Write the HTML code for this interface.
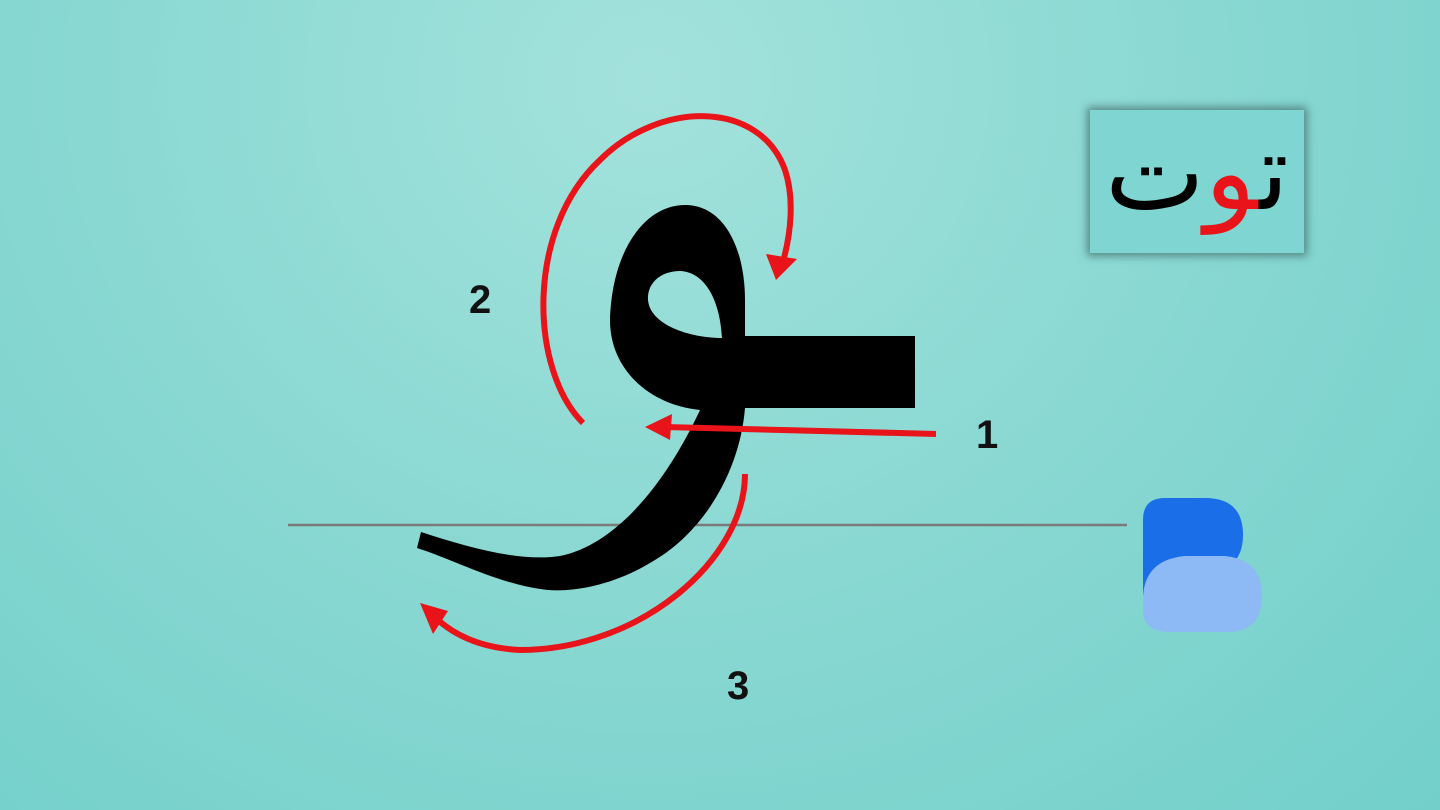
<!DOCTYPE html>
<html><head><meta charset="utf-8"><style>
html,body{margin:0;padding:0}
body{width:1440px;height:810px;overflow:hidden;background:radial-gradient(ellipse at 45% 10%,#a3e2dc 0%,#8cd9d3 45%,#72cfca 100%);font-family:"Liberation Sans","DejaVu Sans",sans-serif;position:relative}
.num{position:absolute;font-weight:bold;font-size:40px;color:#111}
#card{position:absolute;left:1090px;top:110px;width:214px;height:143px;background:#7ed5d1;box-shadow:0 0 8px 3px rgba(40,70,70,.55);text-align:center;line-height:125px;font-family:"DejaVu Sans",sans-serif;font-size:106px;direction:rtl}
</style></head><body>
<svg width="1440" height="810" style="position:absolute;left:0;top:0">
<line x1="288" y1="525" x2="1127" y2="525" stroke="#7a7a7a" stroke-width="2.5"/>
<path fill="#000" fill-rule="evenodd" d="M915 336 L915 408 L745 408 C740 470 705 530 655 560 C615 585 575 592 548 590 C500 585 455 560 417 548 L421 532 C470 548 520 562 560 556 C615 545 665 485 700 410 C650 405 610 370 610 320 C612 250 645 205 685 205 C725 205 745 250 745 300 L745 336 Z M722 338 C690 338 650 325 648 300 C647 282 662 271 680 271 C705 272 720 300 722 338 Z"/>
<g stroke="#e8141a" stroke-width="6" fill="none" stroke-linecap="butt">
<path d="M936 434 L665 427"/>
<path d="M583 423 C530 370 525 230 600 160 C660 100 760 100 785 170 C795 200 790 235 784 258"/>
<path d="M745 474 C745 560 640 650 520 650 C480 648 455 635 438 620"/>
</g>
<g fill="#e8141a">
<polygon points="645,427 672,414 670,440"/>
<polygon points="776,280 766,254 797,259"/>
<polygon points="420,603 448,611 433,634"/>
</g>
<path fill="#1a6fe8" d="M1143 520 Q1143 498 1165 498 L1205 498 Q1243 498 1243 535 Q1243 560 1225 568 L1143 595 Z"/>
<path fill="#8db9f4" d="M1143 600 Q1143 560 1185 556 L1225 556 Q1262 560 1262 595 Q1262 632 1228 632 L1170 632 Q1143 632 1143 610 Z"/>
</svg>
<div class="num" style="left:469px;top:278px">2</div>
<div class="num" style="left:976px;top:413px">1</div>
<div class="num" style="left:727px;top:664px">3</div>
<div id="card"><span style="color:#000">ت</span><span style="color:#e8141a">و</span><span style="color:#000">ت</span></div>
</body></html>
